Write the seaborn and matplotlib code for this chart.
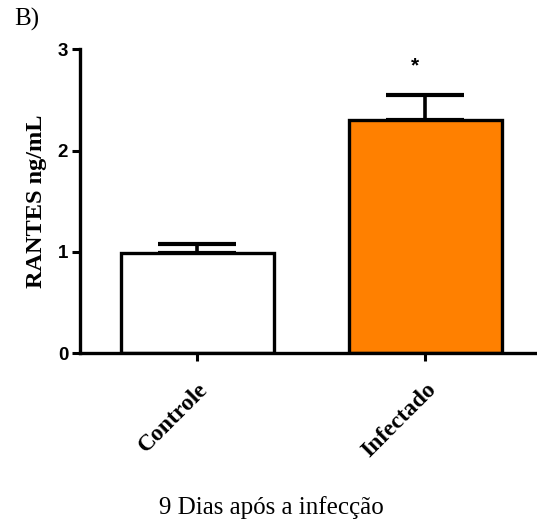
import matplotlib
matplotlib.use("Agg")
import matplotlib.pyplot as plt
import seaborn as sns
import pandas as pd

# Data
groups = ["Controle", "Infectado"]
means = [0.99, 2.30]
sem = [0.09, 0.25]
bar_colors = ["#FFFFFF", "#FF8000"]
y_ticks = [0, 1, 2, 3]

sns.set_style("ticks")
plt.rcParams["font.family"] = ["Liberation Sans", "DejaVu Sans"]
plt.rcParams["text.color"] = "black"
plt.rcParams["axes.labelcolor"] = "black"
plt.rcParams["xtick.color"] = "black"
plt.rcParams["ytick.color"] = "black"

df = pd.DataFrame({"grupo": groups, "valor": means})

fig = plt.figure(figsize=(5.37, 5.24), dpi=100)
ax = fig.add_axes([0.149, 0.326, 0.847, 0.580])

sns.barplot(data=df, x="grupo", y="valor", hue="grupo", palette=bar_colors,
            order=groups, hue_order=groups, width=0.67, edgecolor="black",
            linewidth=2.4, errorbar=None, legend=False, saturation=1,
            ax=ax, zorder=2)

# upper-only error bars (SEM)
ax.errorbar(range(len(groups)), means, yerr=[[0, 0], sem], fmt="none",
            ecolor="black", elinewidth=2.6, capsize=28, capthick=3.0, zorder=1)

# significance marker
ax.text(0.955, means[1] + sem[1] + 0.29, "*", ha="center", va="center",
        fontsize=15, fontweight="bold", color="black")

ax.set_ylim(0, 3)
ax.set_xlim(-0.515, 1.48)
ax.set_yticks(y_ticks)
ax.set_yticklabels([str(t) for t in y_ticks], fontsize=13.5, fontweight="bold",
                   family=["Liberation Sans"], color="black")
ax.set_xticks(range(len(groups)))
ax.set_xticklabels(groups, rotation=45, ha="right", rotation_mode="anchor",
                   fontsize=17, fontweight="bold", family=["Liberation Serif"],
                   color="black")
ax.tick_params(axis="both", width=2.2, length=5.5, color="black", pad=3)
ax.tick_params(axis="x", pad=13)

for side in ["top", "right"]:
    ax.spines[side].set_visible(False)
for side in ["left", "bottom"]:
    ax.spines[side].set_linewidth(2.4)
    ax.spines[side].set_color("black")

ax.set_xlabel("")
ax.set_ylabel("RANTES ng/mL", fontsize=17.5, fontweight="bold",
              family=["Liberation Serif"], labelpad=8, color="black")

fig.text(0.505, 0.032, "9 Dias após a infecção", ha="center", va="center",
         fontsize=18, family=["Liberation Serif"], color="black")
fig.text(0.026, 0.962, "B)", ha="left", va="center", fontsize=18,
         family=["Liberation Serif"], color="black")

fig.savefig("out.png", dpi=100)
